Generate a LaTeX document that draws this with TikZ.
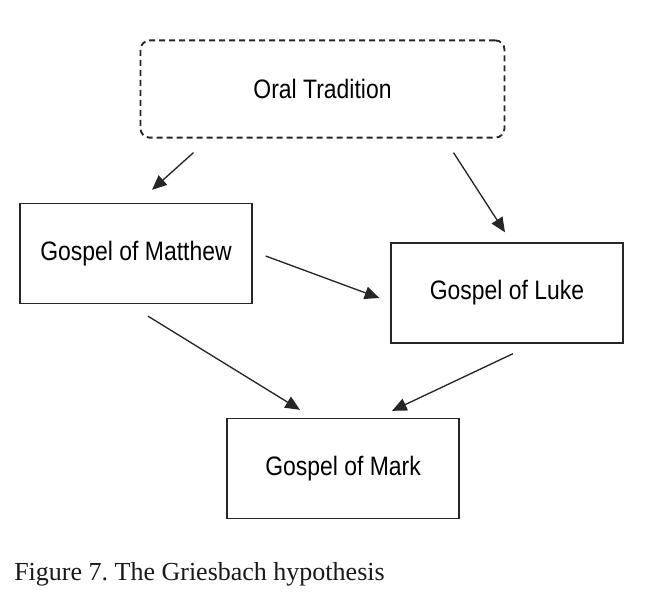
\documentclass[tikz,border=0pt]{standalone}
\usepackage{fontspec}
\setmainfont{Liberation Serif}
\newfontfamily\boxfont[FakeStretch=0.86]{Liberation Sans}
\usetikzlibrary{arrows.meta}
\usetikzlibrary{positioning}
\frenchspacing

\begin{document}
\begin{tikzpicture}[x=0.75pt,y=-0.75pt,
    gospel/.style={draw=black!85,line width=1pt,minimum width=174pt,minimum height=75pt,inner sep=0pt,font=\boxfont\fontsize{20}{24}\selectfont},
    oral/.style={gospel,dash pattern=on 4.5pt off 3pt,line width=1.4pt,rounded corners=7pt,minimum width=273pt,minimum height=73pt},
    link/.style={-{Triangle[length=11pt,width=9.5pt]},line width=1pt,black!85}]
    \useasboundingbox (0,0) rectangle (670,614);
    \node[oral] (oral) at (322.5,89) {Oral Tradition};
    \node[gospel] (matthew) at (136,253.5) {Gospel of Matthew};
    \node[gospel] (luke) at (507,293) {Gospel of Luke};
    \node[gospel] (mark) at (343,468.5) {Gospel of Mark};
    \draw[link] ([shift={(-129,14)}] oral.south) -- ([shift={(16,-13)}] matthew.north);
    \draw[link] ([shift={(131,14)}] oral.south) -- ([shift={(-2,-10)}] luke.north);
    \draw[link] ([shift={(13,2.5)}] matthew.east) -- ([shift={(-11,5)}] luke.west);
    \draw[link] ([shift={(12,12)}] matthew.south) -- ([shift={(-43,-8)}] mark.north);
    \draw[link] ([shift={(6,10)}] luke.south) -- ([shift={(49,-7)}] mark.north);
    \node[anchor=base west,inner sep=0pt,font=\fontsize{19.5}{23}\selectfont,black!90] (caption) at (14,580) {Figure 7. The Griesbach hypothesis};
\end{tikzpicture}
\end{document}
